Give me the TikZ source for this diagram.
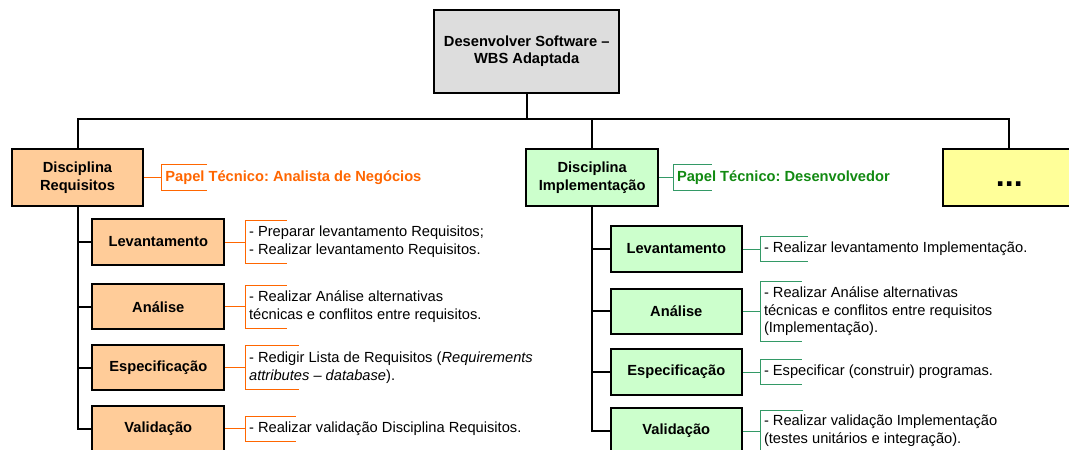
\documentclass[tikz,border=0pt]{standalone}
\usepackage{fontspec}
\setmainfont{Liberation Sans}
\frenchspacing
\definecolor{grayF}{HTML}{DDDDDD}
\definecolor{orangeF}{HTML}{FFCC99}
\definecolor{greenF}{HTML}{CCFFCC}
\definecolor{yellowF}{HTML}{FFFF99}
\definecolor{orangeL}{HTML}{FF6600}
\definecolor{greenL}{HTML}{339966}
\definecolor{greenT}{HTML}{128A12}
% #1 name, #2 source node, #3 bracket x, #4 y, #5 half height, #6 bracket length, #7 line style, #8 text style, #9 text
\newcommand\annot[9]{%
  \draw[#7] (#2.east) -- (#3,#4);
  \draw[#7] (#3+#6,#4-#5) -- (#3,#4-#5) -- (#3,#4+#5) -- (#3+#6,#4+#5);
  \node[#8, anchor=west] (#1) at (#3+3.5,#4) {#9};
}
\begin{document}
\begin{tikzpicture}[x=1pt,y=-1pt,
  box/.style={draw=black, line width=2pt, align=center, inner sep=0pt,
    font=\bfseries\fontsize{14.67}{17.7}\selectfont},
  sub/.style={box, minimum width=132pt, minimum height=45.5pt},
  conn/.style={draw=black, line width=2pt},
  orline/.style={draw=orangeL, line width=1pt},
  grline/.style={draw=greenL, line width=1pt},
  note/.style={align=left, inner sep=0pt, text=black,
    font=\fontsize{14.67}{17.7}\selectfont},
  ortitle/.style={inner sep=0pt, text=orangeL, font=\bfseries\fontsize{14.67}{17.7}\selectfont},
  grtitle/.style={inner sep=0pt, text=greenT, font=\bfseries\fontsize{14.67}{17.7}\selectfont}
]
\useasboundingbox (0,0) rectangle (1069,450);
\fill[white] (0,0) rectangle (1069,450);

% top level
\node[box, fill=grayF, minimum width=185pt, minimum height=83pt] (top) at (526.7,51.3) {Desenvolver Software –\\WBS Adaptada};
\coordinate (bus) at (0,119);

% disciplines
\node[box, fill=orangeF, minimum width=131pt, minimum height=56.4pt] (req) at (77.5,177.5) {Disciplina\\Requisitos};
\node[box, fill=greenF, minimum width=131.7pt, minimum height=56.4pt] (imp) at (592.2,177.5) {Disciplina\\Implementação};
\node[box, fill=yellowF, minimum width=132pt, minimum height=56.4pt,
  font=\bfseries\fontsize{32}{32}\selectfont, text height=18.2pt, text depth=0pt] (etc) at (1009.3,177.5) {...};

% Requisitos activities
\node[sub, fill=orangeF] (rlev) at (158.3,242) {Levantamento};
\node[sub, fill=orangeF] (rana) at (158.3,306.7) {Análise};
\node[sub, fill=orangeF] (rspe) at (158.3,367.5) {Especificação};
\node[sub, fill=orangeF] (rval) at (158.3,428.7) {Validação};

% Implementacao activities
\node[sub, fill=greenF, minimum width=131.3pt] (ilev) at (676.3,249) {Levantamento};
\node[sub, fill=greenF, minimum width=131.3pt] (iana) at (676.3,311.4) {Análise};
\node[sub, fill=greenF, minimum width=131.3pt] (ispe) at (676.3,372.2) {Especificação};
\node[sub, fill=greenF, minimum width=131.3pt] (ival) at (676.3,431) {Validação};

% tree connectors
\draw[conn] (top.south) -- (top.south |- bus);
\draw[conn] (req.north) -- (req.north |- bus) -- (etc.north |- bus) -- (etc.north);
\draw[conn] (imp.north) -- (imp.north |- bus);
\draw[conn] (req.south) |- (rval.west);
\draw[conn] (req.south) |- (rlev.west);
\draw[conn] (req.south) |- (rana.west);
\draw[conn] (req.south) |- (rspe.west);
\draw[conn] (imp.south) |- (ival.west);
\draw[conn] (imp.south) |- (ilev.west);
\draw[conn] (imp.south) |- (iana.west);
\draw[conn] (imp.south) |- (ispe.west);

% role notes
\annot{rrole}{req}{161.7}{177.5}{13}{45.3}{orline}{ortitle}{Papel Técnico: Analista de Negócios}
\annot{irole}{imp}{673.3}{177.5}{12.7}{38.4}{grline}{grtitle}{Papel Técnico: Desenvolvedor}

% Requisitos notes
\annot{rlevn}{rlev}{245.4}{242}{21.3}{41.5}{orline}{note}{- Preparar levantamento Requisitos;\\- Realizar levantamento Requisitos.}
\annot{ranan}{rana}{245.4}{306.7}{21.4}{41.3}{orline}{note}{- Realizar Análise alternativas\\técnicas e conflitos entre requisitos.}
\annot{rspen}{rspe}{245.4}{367.5}{21.7}{53.3}{orline}{note}{- Redigir Lista de Requisitos (\textit{Requirements}\\\textit{attributes – database}).}
\annot{rvaln}{rval}{245.4}{428.7}{12.5}{50.5}{orline}{note}{- Realizar validação Disciplina Requisitos.}

% Implementacao notes
\annot{ilevn}{ilev}{760.3}{249}{12.8}{47.6}{grline}{note}{- Realizar levantamento Implementação.}
\annot{ianan}{iana}{760.3}{311.4}{30.4}{41.4}{grline}{note}{- Realizar Análise alternativas\\técnicas e conflitos entre requisitos\\(Implementação).}
\annot{ispen}{ispe}{760.3}{372.2}{12.7}{41.4}{grline}{note}{- Especificar (construir) programas.}
\annot{ivaln}{ival}{760.3}{431}{21}{43}{grline}{note}{- Realizar validação Implementação\\(testes unitários e integração).}
\end{tikzpicture}
\end{document}
